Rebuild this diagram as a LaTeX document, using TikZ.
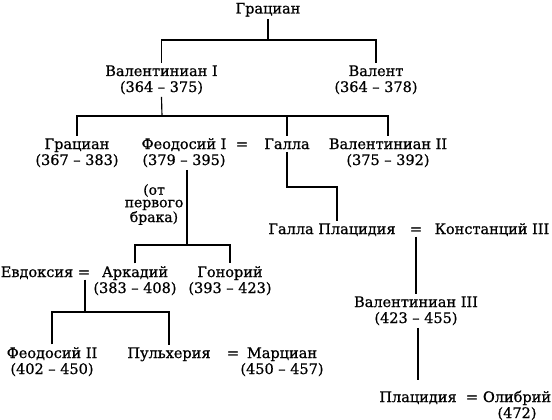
\documentclass[tikz,border=0pt]{standalone}
\usepackage{fontspec}
\setmainfont{DejaVu Serif}[FakeBold=0.8]
\begin{document}
\begin{tikzpicture}[x=1pt,y=-1pt,
  every node/.style={font=\fontsize{14.5}{16}\selectfont, inner xsep=0pt, inner ysep=2.5pt},
  person/.style={anchor=base, align=center},
  marr/.style={anchor=base},
  note/.style={anchor=base, align=center, font=\fontsize{14}{12.5}\selectfont},
  link/.style={line width=1.15pt}]
\useasboundingbox (0,0) rectangle (552,420);
% generation 1
\node[person] (grac0) at (268,13.5) {Грациан};
% generation 2
\node[person] (val1) at (161.5,92) {Валентиниан I\\(364 – 375)};
\node[person] (valens) at (376,92) {Валент\\(364 – 378)};
% generation 3
\node[person] (grac) at (77,165) {Грациан\\(367 – 383)};
\node[person] (theo1) at (184,165) {Феодосий I\\(379 – 395)};
\node[marr] (eq1) at (242,149) {=};
\node[person] (galla) at (287,149) {Галла};
\node[person] (val2) at (388,165) {Валентиниан II\\(375 – 392)};
\node[note] (note) at (154,222) {(от\\первого\\брака)};
% generation 4
\node[person] (evd) at (37,277) {Евдоксия};
\node[marr] (eq2) at (84,277) {=};
\node[person] (ark) at (135,293) {Аркадий\\(383 – 408)};
\node[person] (hon) at (230,293) {Гонорий\\(393 – 423)};
\node[person] (gp) at (332,234) {Галла Плацидия};
\node[marr] (eq4) at (416,234) {=};
\node[person] (const) at (492,234) {Констанций III};
% generation 5
\node[person] (theo2) at (52,374) {Феодосий II\\(402 – 450)};
\node[person] (pul) at (169,358) {Пульхерия};
\node[marr] (eq3) at (233,358) {=};
\node[person] (marc) at (282,374) {Марциан\\(450 – 457)};
\node[person] (val3) at (416,323) {Валентиниан III\\(423 – 455)};
\node[person] (plac) at (418,402) {Плацидия};
\node[marr] (eq5) at (472,402) {=};
\node[person] (olyb) at (517,418) {Олибрий\\(472)};
% junctions
\coordinate (j1) at (268,40);
\coordinate (j2) at (162,116);
\coordinate (j3) at (187,245);
\coordinate (j4) at (337,187);
\coordinate (j5) at (85,312);
% connectors
\draw[link] (grac0.south) -- (j1);
\draw[link] (val1.north) |- (j1) -| (valens.north);
\draw[link] (val1.south) -- (j2);
\draw[link] (grac.north) |- (j2) -| (val2.north);
\draw[link] (galla.north) -- (galla.north |- j2);
\draw[link] (theo1.south -| j3) -- (j3);
\draw[link] (ark.north) |- (j3) -| (hon.north);
\draw[link] (galla.south) |- (j4) -- (j4 |- gp.north);
\draw[link] (eq2.south -| j5) -- (j5);
\draw[link] (theo2.north) |- (j5) -| (pul.north);
\draw[link] (eq4.south) -- (val3.north);
\draw[link, shorten >=9pt] (val3.south -| plac.north) -- (plac.north);
\end{tikzpicture}
\end{document}
